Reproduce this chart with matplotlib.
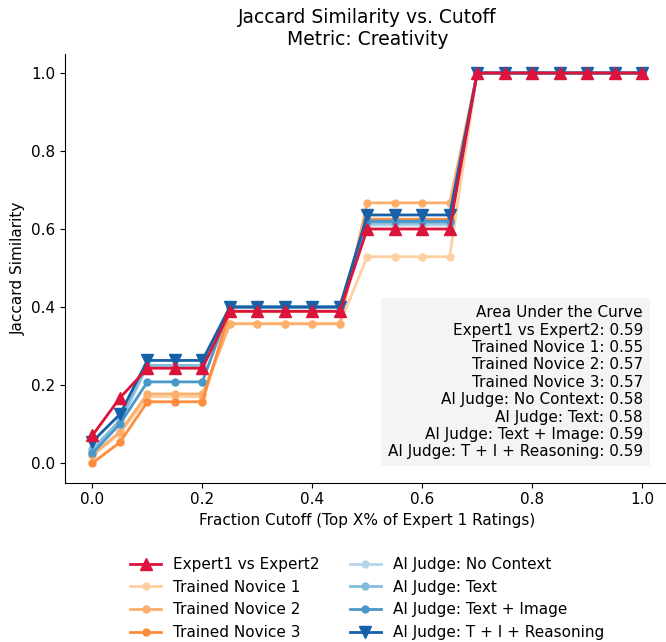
import matplotlib
matplotlib.use("Agg")
import matplotlib.pyplot as plt
import numpy as np

# cutoffs 0.00 .. 1.00 step 0.05
cutoffs = [0.0, 0.05, 0.1, 0.15, 0.2, 0.25, 0.3, 0.35, 0.4, 0.45, 0.5,
           0.55, 0.6, 0.65, 0.7, 0.75, 0.8, 0.85, 0.9, 0.95, 1.0]

expert = [0.071, 0.167, 0.243, 0.243, 0.243, 0.389, 0.389, 0.389, 0.389, 0.389,
          0.6, 0.6, 0.6, 0.6, 1, 1, 1, 1, 1, 1, 1]
novice1 = [0.02, 0.075, 0.17, 0.17, 0.17, 0.357, 0.357, 0.357, 0.357, 0.357,
           0.529, 0.529, 0.529, 0.529, 1, 1, 1, 1, 1, 1, 1]
novice2 = [0.02, 0.08, 0.177, 0.177, 0.177, 0.357, 0.357, 0.357, 0.357, 0.357,
           0.667, 0.667, 0.667, 0.667, 1, 1, 1, 1, 1, 1, 1]
novice3 = [0.0, 0.053, 0.157, 0.157, 0.157, 0.389, 0.389, 0.389, 0.389, 0.389,
           0.625, 0.625, 0.625, 0.625, 1, 1, 1, 1, 1, 1, 1]
ai_none = [0.03, 0.10, 0.25, 0.25, 0.25, 0.4, 0.4, 0.4, 0.4, 0.4,
           0.61, 0.61, 0.61, 0.61, 1, 1, 1, 1, 1, 1, 1]
ai_text = [0.035, 0.11, 0.25, 0.25, 0.25, 0.4, 0.4, 0.4, 0.4, 0.4,
           0.615, 0.615, 0.615, 0.615, 1, 1, 1, 1, 1, 1, 1]
ai_text_img = [0.025, 0.10, 0.208, 0.208, 0.208, 0.4, 0.4, 0.4, 0.4, 0.4,
               0.62, 0.62, 0.62, 0.62, 1, 1, 1, 1, 1, 1, 1]
ai_tir = [0.055, 0.125, 0.263, 0.263, 0.263, 0.4, 0.4, 0.4, 0.4, 0.4,
          0.636, 0.636, 0.636, 0.636, 1, 1, 1, 1, 1, 1, 1]

labels = ["Expert1 vs Expert2", "Trained Novice 1", "Trained Novice 2", "Trained Novice 3",
          "AI Judge: No Context", "AI Judge: Text", "AI Judge: Text + Image",
          "AI Judge: T + I + Reasoning"]
auc_values = [0.59, 0.55, 0.57, 0.57, 0.58, 0.58, 0.59, 0.59]

series = [expert, novice1, novice2, novice3, ai_none, ai_text, ai_text_img, ai_tir]
colors = ["#dc143c", "#fdd0a2", "#fdae6b", "#fd8d3c",
          "#b5d4e9", "#85bcdc", "#4a98c9", "#1661a8"]
markers = ["^", "o", "o", "o", "o", "o", "o", "v"]
msizes = [9, 5, 5, 5, 5, 5, 5, 9]
zorders = [10, 3, 3, 3, 4, 4, 4, 5]

fig = plt.figure(figsize=(6.66, 6.42), dpi=100)
ax = fig.add_axes([65 / 666, 1 - 482.5 / 642, 604.5 / 666, 429 / 642])

for ys, lab, c, m, ms, z in zip(series, labels, colors, markers, msizes, zorders):
    ax.plot(cutoffs, ys, color=c, marker=m, markersize=ms, linewidth=2,
            label=lab, zorder=z)

ax.set_xlim(-0.05, 1.05)
ax.set_ylim(-0.05, 1.05)
ax.set_xticks([0.0, 0.2, 0.4, 0.6, 0.8, 1.0])
ax.set_yticks([0.0, 0.2, 0.4, 0.6, 0.8, 1.0])
ax.tick_params(labelsize=11)
ax.spines["top"].set_visible(False)
ax.spines["right"].set_visible(False)
ax.set_xlabel("Fraction Cutoff (Top X% of Expert 1 Ratings)", fontsize=11)
ax.set_ylabel("Jaccard Similarity", fontsize=11)
ax.set_title("Jaccard Similarity vs. Cutoff\nMetric: Creativity", fontsize=13.5)

auc_text = "Area Under the Curve\n" + "\n".join(
    f"{lab}: {v:.2f}" for lab, v in zip(labels, auc_values))
ax.text(0.956, 0.054, auc_text, transform=ax.transAxes, ha="right", va="bottom",
        fontsize=11, zorder=20,
        bbox=dict(facecolor="#f4f4f4", edgecolor="none", pad=5))

ax.legend(loc="upper center", bbox_to_anchor=(0.5, -0.142), ncol=2,
          frameon=False, fontsize=11, columnspacing=2.0)

fig.savefig("out.png", dpi=100)
